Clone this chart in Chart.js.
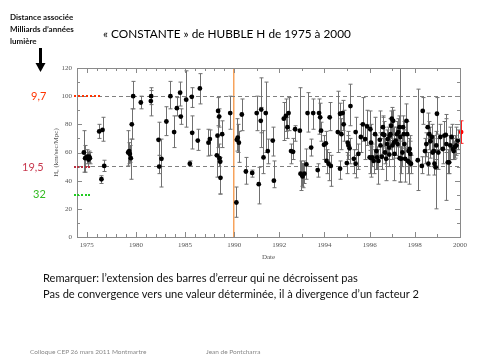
<!DOCTYPE html>
<html>
<head>
<meta charset="utf-8">
<script src="https://cdn.jsdelivr.net/npm/chart.js@4.4.1/dist/chart.umd.min.js"></script>
<style>
  body { margin: 0; width: 480px; height: 360px; background: #fff; position: relative; overflow: hidden; font-family: Lato, "Open Sans", sans-serif; }
  #zone { position: absolute; left: 0; top: 0; width: 480px; height: 360px; }
  .txt { position: absolute; white-space: nowrap; }
  .pointille { position: absolute; height: 0; }
</style>
</head>
<body>
<div id="zone"><canvas id="myChart" width="480" height="360"></canvas></div>

<div class="txt" style="left:10px;top:11px;font-size:8px;line-height:12px;font-weight:bold;color:#111">Distance associée<br>Milliards d’années<br>lumière</div>
<svg style="position:absolute;left:34px;top:47px" width="14" height="27">
  <rect x="5" y="1" width="3" height="17" fill="#000"/>
  <polygon points="1.5,16 11.5,16 6.5,25" fill="#000"/>
</svg>
<div class="txt" style="left:103px;top:26px;font-size:11.8px;color:#000">« CONSTANTE » de HUBBLE H de 1975 à 2000</div>

<div class="txt" style="left:31px;top:89px;font-size:11px;color:#ff3300">9,7</div>
<div class="pointille" style="left:74px;top:95px;width:26px;border-top:2px dotted #ff3300"></div>
<div class="txt" style="left:22px;top:160px;font-size:11px;color:#c8384e">19,5</div>
<div class="pointille" style="left:74px;top:166px;width:16px;border-top:2px dotted #b83040"></div>
<div class="txt" style="left:33px;top:187px;font-size:11px;color:#33bb22">32</div>
<div class="pointille" style="left:74px;top:194px;width:16px;border-top:2px dotted #22cc22"></div>

<div class="txt" style="left:43px;top:271px;font-size:11.1px;color:#111">Remarquer: l’extension des barres d’erreur qui ne décroissent pas</div>
<div class="txt" style="left:43px;top:287px;font-size:11.1px;color:#111">Pas de convergence vers une valeur déterminée, il à divergence d’un facteur 2</div>

<div class="txt" style="left:30px;top:348px;font-size:6.5px;color:#888">Colloque CEP 26 mars 2011 Montmartre</div>
<div class="txt" style="left:206px;top:348px;font-size:6.5px;color:#888">Jean de Pontcharra</div>

<script>
// mesures de H0 (km/s/Mpc) : date, valeur, borne haute, borne basse
const annees = [
  1974.70, 1974.83, 1975.03, 1975.17, 1975.24, 1975.31, 1976.26, 1976.60, 1976.49, 1976.77,
  1979.21, 1979.31, 1979.38, 1979.48, 1979.58, 1979.72, 1980.50, 1981.55, 1981.52, 1982.30,
  1982.37, 1982.60, 1983.10, 1983.51, 1983.89, 1984.17, 1984.50, 1984.57,
  1985.12, 1985.69, 1985.49, 1985.73, 1986.30, 1986.51, 1987.39, 1987.53, 1988.24, 1988.31,
  1988.37, 1988.48, 1988.51, 1988.58, 1988.61, 1988.78, 1989.60,
  1990.10, 1990.12, 1990.16, 1990.21, 1990.34, 1990.52, 1990.80, 1991.00, 1991.09, 1991.18,
  1991.20, 1991.30, 1991.40, 1991.49, 1991.71, 1991.76,
  1992.20, 1992.29, 1992.36, 1992.41, 1992.52, 1992.61, 1992.70, 1992.91, 1992.94, 1993.00,
  1993.03, 1993.11, 1993.20, 1993.25, 1993.41, 1993.50, 1993.70, 1993.76, 1993.81, 1993.85,
  1993.98, 1994.06, 1994.09, 1994.18, 1994.23, 1994.28, 1994.59, 1994.69, 1994.69, 1994.75,
  1994.80, 1994.85, 1994.99, 1995.03, 1995.06, 1995.11, 1995.15, 1995.30, 1995.38, 1995.38,
  1995.50, 1995.61, 1995.70, 1995.80, 1995.89, 1996.00,
  1996.03, 1996.06, 1996.07, 1996.12, 1996.18, 1996.24, 1996.30, 1996.33, 1996.39, 1996.45,
  1996.48, 1996.54, 1996.58, 1996.59, 1996.65, 1996.68, 1996.73, 1996.77, 1996.80, 1996.86,
  1996.87, 1996.89, 1996.92, 1996.95, 1996.98, 1997.01, 1997.04, 1997.07, 1997.10, 1997.15,
  1997.21, 1997.24, 1997.27, 1997.32, 1997.33, 1997.36, 1997.39, 1997.45, 1997.48, 1997.51,
  1997.54, 1997.57, 1997.63, 1997.66, 1997.69, 1997.72, 1997.75, 1997.77, 1997.80, 1997.83,
  1998.13, 1998.31, 1998.35, 1998.45, 1998.51, 1998.57, 1998.60, 1998.64, 1998.69, 1998.75,
  1998.79, 1998.84, 1998.87, 1998.92, 1998.95, 1998.98, 1999.04, 1999.13, 1999.24, 1999.31,
  1999.37, 1999.40, 1999.46, 1999.52, 1999.57, 1999.63, 1999.69, 1999.72, 1999.78, 1999.84,
  1999.90
];
const valeurs = [
  60, 56, 57, 55, 57, 56, 75, 76, 41, 50.5,
  60, 61, 59, 56, 80, 100, 95.5, 100, 96.5, 69,
  50, 55.5, 82, 100, 74.5, 91.5, 102.5, 85.5,
  97.5, 99.5, 52, 74, 68.5, 105.5, 67, 69.5, 58, 72,
  89.5, 85.5, 56, 53.5, 42, 73, 88,
  24.5, 69, 70.5, 67, 87, 46.5, 45.5, 88, 37.5, 82.5,
  90.5, 56.5, 88, 61, 68.5, 40,
  84, 86, 78, 88, 61, 60.5, 76.5, 75.5, 45, 44,
  43, 45, 51.5, 88, 63.5, 88, 47.5, 88, 85, 75.5,
  65.5, 66.5, 54, 52, 85, 50.5, 74.5, 87.5, 48.5, 73,
  88, 80, 52.5, 67, 65, 63, 93, 55.5, 52, 74.5,
  59, 71, 80, 69.5, 78.5, 56.5,
  76.5, 67, 56, 56.5, 54, 73, 61, 56.5, 54, 69,
  65, 57, 73, 78, 72.5, 60, 55.5, 66, 69.5, 63.5,
  58.5, 72, 73, 79, 84, 65, 82.5, 67, 59, 68.5,
  73, 66, 74.5, 78, 56, 71, 55.5, 60, 78, 73,
  66, 55.5, 82.5, 73, 54, 61, 53, 62.5, 59, 52,
  54.5, 50.5, 89.5, 61, 66, 78, 52, 73, 68, 71,
  60, 61, 52, 49.5, 65, 87.5, 60, 71, 62.5, 72,
  72.5, 66, 53, 53, 65, 71, 62.5, 61, 64, 65,
  68.5
];
const bornesHautes = [
  75.5, 65, 62, 60, 61, 60, 80, 85, 43.5, 54.5,
  75.5, 67, 65, 69.5, 91, 110.5, 100, 106, 104, 81.5,
  58, 69.5, 92.5, 110.5, 86, 99, 110, 91,
  118, 106, 54, 86, 76.5, 116, 76.5, 76, 71, 85,
  99, 91, 66, 56.5, 54, 82.5, 100,
  35.5, 84, 80, 75, 98, 56.5, 47.5, 100, 49.5, 92,
  113, 75.5, 110, 69.5, 78, 54,
  95.5, 98, 85, 99, 66, 70, 79, 106, 54, 52,
  52, 54, 62.5, 102.5, 69.5, 98, 52, 98, 95, 81.5,
  72, 75, 62, 60, 95.5, 58, 103.5, 95, 54, 84,
  97, 90, 60, 75, 72, 70, 108.5, 62, 58, 85,
  66, 80, 99, 80, 90, 66,
  89.5, 80, 64, 66, 62, 85, 72, 64, 62, 89.5,
  74, 65, 85, 86, 82, 70, 63, 76, 78, 72,
  66, 80, 84, 89.5, 92, 76, 90, 78, 68, 78,
  82, 75, 84, 86, 64, 125, 64, 70, 86, 82,
  76, 64, 94.5, 82, 62, 70, 62, 72, 68, 58,
  105, 57, 99, 70, 74, 88, 60, 82, 78, 80,
  70, 72, 60, 62, 75, 99, 70, 80, 72, 82,
  84, 87, 62, 72, 78, 80, 70, 68, 72, 78,
  76
];
const bornesBasses = [
  46, 46, 52, 50, 53, 52, 70, 68, 38, 46.5,
  50.5, 52, 53, 41, 69.5, 91, 91, 94, 86, 49.5,
  45, 35.5, 72, 91, 63.5, 86, 93, 80,
  78, 92, 50.5, 62.5, 61.5, 94.5, 57.5, 58, 42.5, 63.5,
  79, 78, 50, 30.5, 30.5, 63.5, 76.5,
  14, 61, 60, 53, 75.5, 37.5, 42.5, 75.5, 23.5, 74,
  63.5, 45, 60, 52, 57.5, 35,
  68.5, 75, 70, 75.5, 52, 55, 68, 44.5, 33, 36,
  35, 38, 41, 74.5, 57.5, 76.5, 42.5, 73, 75, 68,
  55, 55, 45, 40, 75.5, 36, 60, 74, 41, 62,
  75.5, 68, 45, 58, 55, 52, 79, 45, 42, 62,
  48, 60, 68, 55, 65, 45,
  61.5, 55, 42.5, 50, 45, 56.5, 48, 48, 37.5, 58,
  56, 48, 59, 70, 64, 52, 40, 55, 60, 55,
  50, 62, 63, 70, 68.5, 55, 72, 56, 40, 58,
  64, 56, 65, 68, 39, 39, 45, 50, 68, 63,
  56, 39, 72, 63, 45, 52, 37.5, 54, 50, 45,
  33, 45, 80, 52, 57, 66, 44, 62, 56, 60,
  50, 50, 44, 20, 55, 73, 48, 62, 52, 62,
  60, 26, 45, 45, 55, 62, 55, 55, 56, 58,
  62
];
// valeur récente en rouge
const anneeRouge = [2000.05];
const valeurRouge = [74.5];
const hauteRouge = [82.5];
const basseRouge = [66.5];

const anneesTicks = [1975, 1976, 1977, 1978, 1979, 1980, 1981, 1982, 1983, 1984, 1985, 1986, 1987,
  1988, 1989, 1990, 1991, 1992, 1993, 1994, 1995, 1996, 1997, 1998, 1999, 2000];
const anneesEtiquettes = [1975, 1980, 1985, 1990, 1992, 1994, 1996, 1998, 2000];
const rupture = 1990;
const etirement = 2.3;

// échelle à deux pentes : les années après 1990 sont dilatées
function deformer(v) {
  return v <= rupture ? v : rupture + (v - rupture) * etirement;
}
class EchelleBrisee extends Chart.LinearScale {
  getPixelForValue(v) {
    const a = deformer(this.min), b = deformer(this.max);
    return this.getPixelForDecimal((deformer(v) - a) / (b - a));
  }
}
EchelleBrisee.id = 'brisee';
EchelleBrisee.defaults = Chart.LinearScale.defaults;
Chart.register(EchelleBrisee);

const points = (xs, ys) => xs.map((x, i) => ({ x, y: ys[i] }));

const barresErreur = {
  id: 'barresErreur',
  beforeDatasetsDraw(chart) {
    const { ctx, chartArea, scales } = chart;
    ctx.save();
    ctx.beginPath();
    ctx.rect(chartArea.left - 10, chartArea.top, chartArea.right - chartArea.left + 20, chartArea.bottom - chartArea.top);
    ctx.clip();
    chart.data.datasets.forEach(ds => {
      ctx.strokeStyle = ds.couleurBarre;
      ctx.lineWidth = 1;
      ds.data.forEach((p, i) => {
        const x = Math.round(scales.x.getPixelForValue(p.x)) + 0.5;
        const yh = scales.y.getPixelForValue(ds.hautes[i]);
        const yb = scales.y.getPixelForValue(ds.basses[i]);
        ctx.beginPath();
        ctx.moveTo(x, yh); ctx.lineTo(x, yb);
        ctx.moveTo(x - 2, yh); ctx.lineTo(x + 2, yh);
        ctx.moveTo(x - 2, yb); ctx.lineTo(x + 2, yb);
        ctx.stroke();
      });
    });
    ctx.restore();
  }
};

const cadre = {
  id: 'cadre',
  afterDraw(chart) {
    const { ctx, chartArea: a, scales } = chart;
    ctx.save();
    ctx.strokeStyle = '#8a8a8a';
    ctx.lineWidth = 1;
    ctx.strokeRect(a.left + 0.5, a.top + 0.5, a.right - a.left, a.bottom - a.top);
    ctx.beginPath();
    scales.x.ticks.forEach(t => {
      const x = Math.round(scales.x.getPixelForValue(t.value)) + 0.5;
      const l = anneesEtiquettes.includes(t.value) ? 5 : 3;
      ctx.moveTo(x, a.bottom); ctx.lineTo(x, a.bottom - l);
      ctx.moveTo(x, a.top); ctx.lineTo(x, a.top + l);
    });
    scales.y.ticks.forEach(t => {
      const y = Math.round(scales.y.getPixelForValue(t.value)) + 0.5;
      const l = t.value % 20 === 0 ? 5 : 3;
      ctx.moveTo(a.left, y); ctx.lineTo(a.left + l, y);
      ctx.moveTo(a.right, y); ctx.lineTo(a.right - l, y);
    });
    ctx.stroke();
    ctx.restore();
  }
};

const policeAxe = { family: '"Liberation Serif", serif', size: 7 };

new Chart(document.getElementById('myChart'), {
  type: 'scatter',
  data: {
    datasets: [
      {
        data: points(annees, valeurs),
        hautes: bornesHautes, basses: bornesBasses,
        couleurBarre: '#707070',
        backgroundColor: '#000', borderWidth: 0, pointRadius: 2.4
      },
      {
        data: points(anneeRouge, valeurRouge),
        hautes: hauteRouge, basses: basseRouge,
        couleurBarre: '#ff2020',
        backgroundColor: '#ff0000', borderWidth: 0, pointRadius: 2.4,
        clip: false
      }
    ]
  },
  options: {
    responsive: false,
    animation: false,
    events: [],
    layout: { padding: { left: 50, right: 20, top: 68, bottom: 99 } },
    plugins: { legend: { display: false }, tooltip: { enabled: false } },
    scales: {
      x: {
        type: 'brisee',
        min: 1974, max: 2000,
        afterBuildTicks: s => { s.ticks = anneesTicks.map(v => ({ value: v })); },
        afterFit: s => { s.height = 24; },
        grid: {
          drawTicks: false,
          color: c => c.tick && c.tick.value === 1990 ? '#f7a35c' : 'rgba(0,0,0,0)',
          lineWidth: 1.5
        },
        border: { display: false },
        ticks: {
          autoSkip: false, maxRotation: 0, padding: 4,
          color: '#555', font: policeAxe,
          callback: v => anneesEtiquettes.includes(v) ? String(v) : ''
        },
        title: { display: true, text: 'Date', color: '#555', font: policeAxe, padding: { top: 0, bottom: 0 } }
      },
      y: {
        min: 0, max: 120,
        afterFit: s => { s.width = 27; },
        grid: {
          drawTicks: false,
          color: c => c.tick && (c.tick.value === 50 || c.tick.value === 100) ? '#808080' : 'rgba(0,0,0,0)',
          lineWidth: 1
        },
        border: { display: false, dash: [4, 3] },
        ticks: {
          stepSize: 10, padding: 5,
          color: '#555', font: policeAxe,
          callback: v => v % 20 === 0 ? String(v) : ''
        },
        title: { display: true, text: 'H₀ (km/sec/Mpc)', color: '#555', font: policeAxe, padding: { top: 2, bottom: 0 } }
      }
    }
  },
  plugins: [barresErreur, cadre]
});
</script>
</body>
</html>
